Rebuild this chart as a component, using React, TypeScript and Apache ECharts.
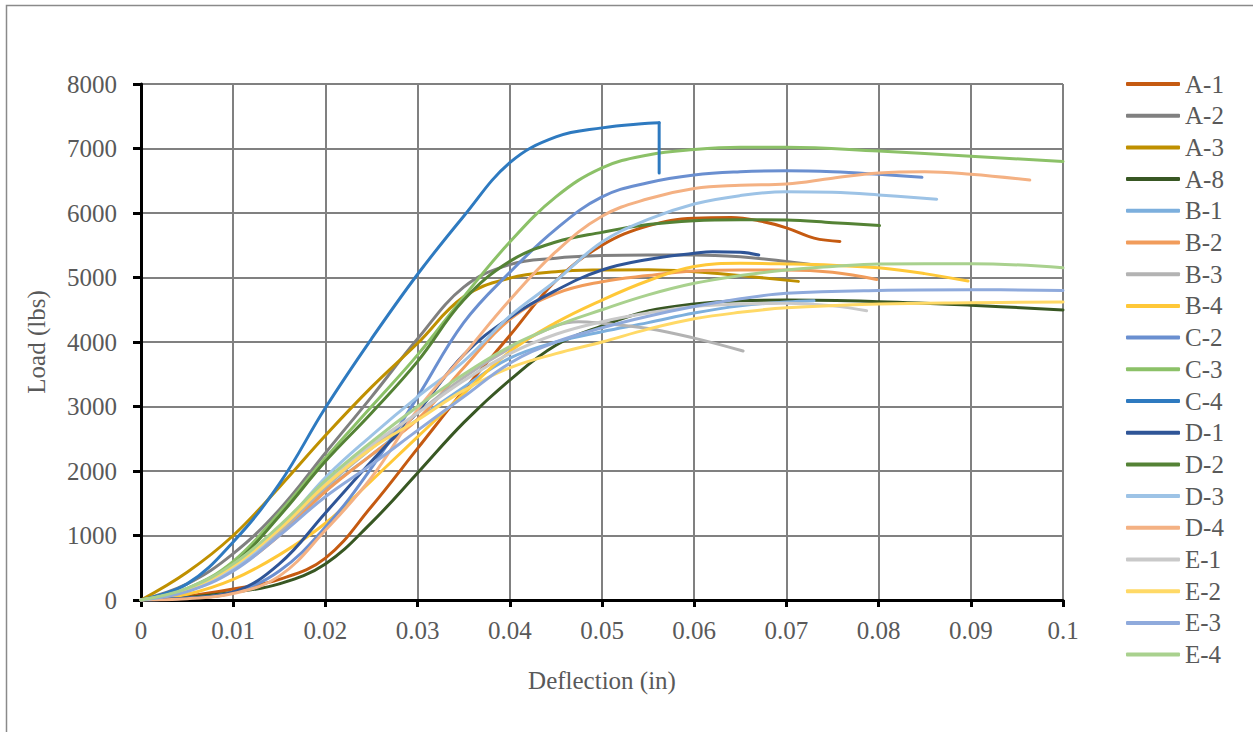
import React, { useEffect, useRef } from "react";
import * as echarts from "echarts";

type Pt = [number, number];

const A1: Pt[] = [[0,0],[0.005,60],[0.01,170],[0.015,320],[0.02,650],[0.025,1450],[0.03,2350],[0.035,3250],[0.04,4100],[0.045,4950],[0.05,5500],[0.055,5800],[0.06,5920],[0.064,5930],[0.067,5880],[0.07,5770],[0.073,5610],[0.0758,5560]];
const A2: Pt[] = [[0,0],[0.005,250],[0.01,720],[0.015,1400],[0.02,2280],[0.025,3150],[0.03,4050],[0.035,4850],[0.04,5200],[0.045,5300],[0.05,5340],[0.055,5350],[0.06,5350],[0.065,5320],[0.07,5250],[0.074,5180]];
const A3: Pt[] = [[0,0],[0.005,430],[0.01,1000],[0.015,1750],[0.02,2550],[0.025,3300],[0.03,3980],[0.035,4700],[0.04,4990],[0.045,5090],[0.05,5116],[0.055,5120],[0.06,5090],[0.065,5030],[0.0713,4940]];
const A8: Pt[] = [[0,0],[0.005,40],[0.01,120],[0.015,250],[0.02,560],[0.025,1200],[0.03,1970],[0.035,2750],[0.04,3410],[0.045,3950],[0.05,4250],[0.055,4480],[0.06,4590],[0.065,4640],[0.07,4650],[0.08,4625],[0.09,4570],[0.1,4496]];
const B1: Pt[] = [[0,0],[0.005,140],[0.01,480],[0.015,1050],[0.02,1700],[0.025,2250],[0.03,2800],[0.035,3300],[0.04,3750],[0.045,4000],[0.05,4160],[0.055,4300],[0.06,4450],[0.065,4560],[0.07,4620],[0.073,4640]];
const B2: Pt[] = [[0,0],[0.005,140],[0.01,470],[0.015,1000],[0.02,1680],[0.025,2250],[0.03,2800],[0.035,3600],[0.04,4350],[0.045,4750],[0.05,4935],[0.055,5030],[0.06,5100],[0.065,5116],[0.07,5116],[0.075,5080],[0.0798,4970]];
const B3: Pt[] = [[0,0],[0.005,150],[0.01,500],[0.015,1050],[0.02,1750],[0.025,2350],[0.03,2900],[0.035,3450],[0.04,3900],[0.045,4250],[0.0475,4315],[0.05,4290],[0.055,4210],[0.06,4060],[0.0653,3860]];
const B4: Pt[] = [[0,0],[0.005,90],[0.01,320],[0.015,700],[0.02,1190],[0.025,1850],[0.03,2530],[0.035,3200],[0.04,3850],[0.045,4300],[0.05,4650],[0.055,4950],[0.06,5170],[0.065,5220],[0.07,5210],[0.075,5190],[0.08,5150],[0.085,5060],[0.0897,4945]];
const C2: Pt[] = [[0,0],[0.005,30],[0.01,120],[0.015,450],[0.02,1130],[0.025,2050],[0.03,3150],[0.035,4300],[0.04,5080],[0.045,5750],[0.05,6250],[0.055,6470],[0.06,6590],[0.065,6640],[0.07,6655],[0.075,6640],[0.08,6600],[0.0847,6553]];
const C3: Pt[] = [[0,0],[0.005,180],[0.01,600],[0.015,1350],[0.02,2200],[0.025,3000],[0.03,3800],[0.035,4700],[0.04,5550],[0.045,6250],[0.05,6700],[0.055,6900],[0.06,6985],[0.065,7020],[0.07,7020],[0.08,6960],[0.09,6880],[0.1,6800]];
const C4: Pt[] = [[0,0],[0.005,250],[0.01,900],[0.015,1800],[0.02,2980],[0.025,4050],[0.03,5050],[0.035,5950],[0.04,6780],[0.045,7180],[0.05,7320],[0.055,7390],[0.0562,7400]];
const C4Drop: Pt[] = [[0.0562,7400],[0.0562,6620]];
const D1: Pt[] = [[0,0],[0.005,30],[0.01,120],[0.015,560],[0.02,1350],[0.025,2150],[0.03,2920],[0.035,3800],[0.04,4380],[0.045,4800],[0.05,5116],[0.055,5280],[0.06,5375],[0.062,5400],[0.065,5390],[0.067,5350]];
const D2: Pt[] = [[0,0],[0.005,160],[0.01,550],[0.015,1300],[0.02,2150],[0.025,2900],[0.03,3700],[0.035,4650],[0.04,5250],[0.045,5550],[0.05,5700],[0.055,5820],[0.06,5880],[0.065,5895],[0.07,5890],[0.075,5850],[0.0801,5805]];
const D3: Pt[] = [[0,0],[0.005,150],[0.01,500],[0.015,1100],[0.02,1900],[0.025,2550],[0.03,3150],[0.035,3700],[0.04,4400],[0.045,4950],[0.05,5550],[0.055,5900],[0.06,6140],[0.065,6270],[0.07,6330],[0.075,6320],[0.08,6280],[0.0863,6215]];
const D4: Pt[] = [[0,0],[0.005,20],[0.01,100],[0.015,370],[0.02,1080],[0.025,1900],[0.03,2950],[0.035,3800],[0.04,4650],[0.045,5400],[0.05,5950],[0.055,6220],[0.06,6380],[0.065,6430],[0.07,6450],[0.075,6540],[0.08,6620],[0.085,6640],[0.09,6600],[0.0964,6510]];
const E1: Pt[] = [[0,0],[0.005,150],[0.01,520],[0.015,1100],[0.02,1800],[0.025,2400],[0.03,2900],[0.035,3400],[0.04,3820],[0.045,4120],[0.05,4315],[0.055,4450],[0.06,4550],[0.065,4590],[0.07,4600],[0.075,4560],[0.0787,4485]];
const E2: Pt[] = [[0,0],[0.005,170],[0.01,530],[0.015,1100],[0.02,1780],[0.025,2350],[0.03,2790],[0.035,3250],[0.04,3600],[0.045,3820],[0.05,4000],[0.055,4200],[0.06,4360],[0.065,4460],[0.07,4530],[0.08,4590],[0.09,4610],[0.1,4620]];
const E3: Pt[] = [[0,0],[0.005,130],[0.01,450],[0.015,1000],[0.02,1600],[0.025,2100],[0.03,2630],[0.035,3150],[0.04,3670],[0.045,4000],[0.05,4220],[0.055,4400],[0.06,4550],[0.065,4670],[0.07,4755],[0.08,4800],[0.09,4810],[0.1,4800]];
const E4: Pt[] = [[0,0],[0.005,180],[0.01,560],[0.015,1150],[0.02,1850],[0.025,2450],[0.03,3000],[0.035,3500],[0.04,3930],[0.045,4250],[0.05,4500],[0.055,4730],[0.06,4910],[0.065,5030],[0.07,5116],[0.075,5170],[0.08,5210],[0.09,5215],[0.1,5150]];

const SERIES_NAMES = ["A-1","A-2","A-3","A-8","B-1","B-2","B-3","B-4","C-2","C-3","C-4","D-1","D-2","D-3","D-4","E-1","E-2","E-3","E-4"];
const SERIES_DATA: Pt[][] = [A1,A2,A3,A8,B1,B2,B3,B4,C2,C3,C4,D1,D2,D3,D4,E1,E2,E3,E4];
const SERIES_COLORS = ["#C55A11","#808080","#BF9000","#385723","#7CAFDD","#F19C5B","#B3B3B3","#FFC838","#6A8FD0","#8CC168","#2E7AC0","#2F5597","#548235","#9DC3E6","#F4B183","#C9C9C9","#FFD966","#8FAADC","#A9D18E"];

const FONT = "'Liberation Serif', 'Times New Roman', serif";
const TEXT_COLOR = "#595959";

export default function App() {
  const ref = useRef<HTMLDivElement>(null);
  useEffect(() => {
    if (!ref.current) return;
    const chart = echarts.init(ref.current, undefined, { renderer: "svg" });
    const series: any[] = SERIES_NAMES.map((name, i) => ({
      name,
      type: "line",
      data: SERIES_DATA[i],
      smooth: 0.4,
      showSymbol: false,
      symbol: "none",
      color: SERIES_COLORS[i],
      lineStyle: { width: 3, color: SERIES_COLORS[i], cap: "round", join: "round" },
    }));
    const c4i = SERIES_NAMES.indexOf("C-4");
    series.push({
      name: "C-4",
      type: "line",
      data: C4Drop,
      showSymbol: false,
      symbol: "none",
      color: SERIES_COLORS[c4i],
      lineStyle: { width: 3, color: SERIES_COLORS[c4i], cap: "round" },
    });
    chart.setOption({
      animation: false,
      backgroundColor: "#ffffff",
      textStyle: { fontFamily: FONT },
      grid: { left: 141, right: 190, top: 84, bottom: 132, containLabel: false },
      graphic: [
        {
          type: "rect",
          shape: { x: 6.5, y: 5.5, width: 1400, height: 900 },
          style: { fill: "none", stroke: "#8a8a8a", lineWidth: 1.5 },
          silent: true,
        },
      ],
      legend: {
        orient: "vertical",
        left: 1126,
        top: 71.5,
        padding: 0,
        data: SERIES_NAMES,
        icon: "roundRect",
        itemWidth: 54,
        itemHeight: 4,
        itemGap: 6.7,
        itemTextGap: 5,
        textStyle: { fontFamily: FONT, fontSize: 25, color: TEXT_COLOR, lineHeight: 25 },
      },
      xAxis: {
        type: "value",
        min: 0,
        max: 0.1,
        interval: 0.01,
        name: "Deflection (in)",
        nameLocation: "middle",
        nameGap: 68,
        nameTextStyle: { fontFamily: FONT, fontSize: 25, color: TEXT_COLOR },
        axisLine: { show: true, onZero: false, lineStyle: { color: "#000000", width: 3 } },
        axisTick: { show: true, inside: false, length: 7, lineStyle: { color: "#000000", width: 3 } },
        axisLabel: { fontFamily: FONT, fontSize: 25, color: TEXT_COLOR, margin: 18, formatter: (v: number) => String(Math.round(v * 1000) / 1000) },
        splitLine: { show: true, lineStyle: { color: "#808080", width: 2 } },
      },
      yAxis: {
        type: "value",
        min: 0,
        max: 8000,
        interval: 1000,
        name: "Load (lbs)",
        nameLocation: "middle",
        nameGap: 92,
        nameRotate: 90,
        nameTextStyle: { fontFamily: FONT, fontSize: 25, color: TEXT_COLOR },
        axisLine: { show: true, onZero: false, lineStyle: { color: "#000000", width: 3 } },
        axisTick: { show: true, inside: false, length: 8, lineStyle: { color: "#000000", width: 3 } },
        axisLabel: { fontFamily: FONT, fontSize: 25, color: TEXT_COLOR, margin: 24, formatter: (v: number) => String(v) },
        splitLine: { show: true, lineStyle: { color: "#808080", width: 2 } },
      },
      series,
    });
    return () => chart.dispose();
  }, []);
  return (
    <div
      ref={ref}
      style={{ position: "absolute", left: 0, top: 0, width: 1253, height: 732, background: "#fff" }}
    />
  );
}
